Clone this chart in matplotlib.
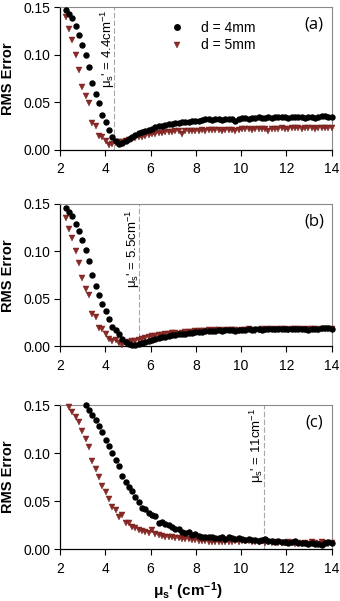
import numpy as np
import matplotlib
matplotlib.use('Agg')
import matplotlib.pyplot as plt

plt.rcParams['font.family'] = ['Liberation Sans', 'DejaVu Sans']
plt.rcParams['mathtext.fontset'] = 'custom'
plt.rcParams['mathtext.rm'] = 'Liberation Sans'
plt.rcParams['mathtext.it'] = 'Liberation Sans:italic'
plt.rcParams['mathtext.bf'] = 'Liberation Sans:bold'

# reduced scattering coefficient grid (cm^-1)
mu_s = np.linspace(2.25, 14.0, 81)

# (a)
a_d4 = [0.147, 0.143, 0.138, 0.130, 0.121, 0.110, 0.100, 0.087, 0.070, 0.058,
        0.049, 0.036, 0.029, 0.021, 0.013, 0.009, 0.006, 0.007, 0.009, 0.011,
        0.013, 0.015, 0.017, 0.018, 0.020, 0.021, 0.022, 0.024, 0.025, 0.025,
        0.026, 0.027, 0.027, 0.028, 0.028, 0.029, 0.029, 0.029, 0.030, 0.030,
        0.030, 0.031, 0.032, 0.032, 0.031, 0.032, 0.032, 0.031, 0.032, 0.032,
        0.032, 0.030, 0.032, 0.033, 0.033, 0.032, 0.033, 0.033, 0.034, 0.033,
        0.033, 0.034, 0.033, 0.034, 0.034, 0.034, 0.034, 0.033, 0.034, 0.034,
        0.034, 0.034, 0.033, 0.034, 0.034, 0.033, 0.034, 0.035, 0.035, 0.034,
        0.034]
a_d5 = [0.140, 0.127, 0.115, 0.100, 0.084, 0.066, 0.056, 0.049, 0.028, 0.025,
        0.014, 0.013, 0.009, 0.005, 0.006, 0.007, 0.008, 0.008, 0.009, 0.010,
        0.011, 0.012, 0.013, 0.013, 0.014, 0.015, 0.016, 0.016, 0.017, 0.017,
        0.018, 0.018, 0.018, 0.019, 0.019, 0.016, 0.019, 0.020, 0.020, 0.020,
        0.020, 0.021, 0.020, 0.021, 0.021, 0.021, 0.021, 0.020, 0.021, 0.021,
        0.021, 0.019, 0.021, 0.022, 0.022, 0.022, 0.021, 0.022, 0.022, 0.022,
        0.022, 0.020, 0.022, 0.022, 0.022, 0.023, 0.022, 0.022, 0.023, 0.023,
        0.023, 0.022, 0.023, 0.023, 0.023, 0.022, 0.023, 0.023, 0.023, 0.023,
        0.023]

# (b)
b_d4 = [0.146, 0.142, 0.137, 0.129, 0.122, 0.112, 0.102, 0.090, 0.075, 0.064,
        0.054, 0.045, 0.037, 0.029, 0.021, 0.017, 0.013, 0.008, 0.005, 0.003,
        0.002, 0.002, 0.003, 0.004, 0.005, 0.006, 0.007, 0.008, 0.009, 0.010,
        0.010, 0.011, 0.012, 0.012, 0.013, 0.013, 0.013, 0.014, 0.014, 0.015,
        0.015, 0.015, 0.016, 0.016, 0.016, 0.016, 0.017, 0.016, 0.017, 0.017,
        0.017, 0.016, 0.017, 0.017, 0.017, 0.018, 0.017, 0.018, 0.018, 0.017,
        0.018, 0.018, 0.018, 0.018, 0.018, 0.018, 0.018, 0.018, 0.018, 0.018,
        0.018, 0.018, 0.018, 0.017, 0.018, 0.018, 0.018, 0.019, 0.019, 0.019,
        0.018]
b_d5 = [0.135, 0.124, 0.114, 0.101, 0.088, 0.072, 0.061, 0.054, 0.034, 0.031,
        0.019, 0.018, 0.013, 0.008, 0.006, 0.007, 0.004, 0.002, 0.004, 0.005,
        0.006, 0.006, 0.007, 0.008, 0.009, 0.010, 0.011, 0.011, 0.012, 0.012,
        0.013, 0.013, 0.014, 0.014, 0.013, 0.014, 0.015, 0.015, 0.015, 0.016,
        0.016, 0.016, 0.016, 0.017, 0.016, 0.017, 0.017, 0.016, 0.017, 0.017,
        0.017, 0.017, 0.016, 0.017, 0.017, 0.018, 0.017, 0.016, 0.017, 0.018,
        0.017, 0.018, 0.018, 0.017, 0.018, 0.018, 0.018, 0.017, 0.018, 0.018,
        0.018, 0.018, 0.017, 0.018, 0.018, 0.018, 0.017, 0.018, 0.018, 0.018,
        0.018]

# (c)  (None = off the top of the axis)
c_d4 = [None, None, None, None, None, None, 0.150, 0.145, 0.140, 0.134,
        0.128, 0.122, 0.114, 0.107, 0.100, 0.093, 0.086, 0.076, 0.070, 0.065,
        0.060, 0.054, 0.049, 0.043, 0.042, 0.038, 0.035, 0.034, 0.027, 0.028,
        0.026, 0.025, 0.023, 0.021, 0.021, 0.018, 0.017, 0.018, 0.015, 0.016,
        0.014, 0.013, 0.013, 0.012, 0.012, 0.011, 0.011, 0.012, 0.010, 0.013,
        0.011, 0.010, 0.011, 0.010, 0.009, 0.010, 0.009, 0.009, 0.008, 0.009,
        0.010, 0.008, 0.008, 0.007, 0.008, 0.007, 0.007, 0.006, 0.007, 0.008,
        0.006, 0.006, 0.006, 0.005, 0.006, 0.005, 0.005, 0.004, 0.006, 0.007,
        0.006]
c_d5 = [None, 0.148, 0.143, 0.138, 0.132, 0.123, 0.115, 0.106, 0.092, 0.083,
        0.075, 0.066, 0.059, 0.052, 0.044, 0.041, 0.033, 0.035, 0.027, 0.027,
        0.023, 0.022, 0.020, 0.019, 0.018, 0.017, 0.020, 0.016, 0.015, 0.014,
        0.013, 0.013, 0.012, 0.011, 0.011, 0.010, 0.010, 0.010, 0.009, 0.009,
        0.008, 0.008, 0.008, 0.007, 0.007, 0.007, 0.007, 0.007, 0.007, 0.007,
        0.007, 0.008, 0.007, 0.008, 0.008, 0.008, 0.007, 0.007, 0.007, 0.008,
        0.006, 0.007, 0.006, 0.007, 0.006, 0.006, 0.006, 0.007, 0.006, 0.005,
        0.006, 0.005, 0.006, 0.005, 0.007, 0.006, 0.005, 0.007, 0.006, 0.005,
        0.006]

optimum = [4.4, 5.5, 11.0]
opt_labels = ['4.4', '5.5', '11']
panel_tags = ['(a)', '(b)', '(c)']
series = [(a_d4, a_d5), (b_d4, b_d5), (c_d4, c_d5)]

# axes boxes in figure fractions (left, bottom, width, height)
boxes = [[0.1765, 0.7512, 0.799, 0.2371],
         [0.1765, 0.4235, 0.799, 0.2371],
         [0.1765, 0.0865, 0.799, 0.2396]]
text_y = [0.106, 0.103, 0.108]
text_dx = [-0.28, -0.26, -0.30]

red = '#8c2a26'

fig = plt.figure(figsize=(3.4, 6.01), dpi=100)
for i in range(3):
    ax = fig.add_axes(boxes[i])
    d4 = np.array([np.nan if v is None else v for v in series[i][0]])
    d5 = np.array([np.nan if v is None else v for v in series[i][1]])
    ax.plot(mu_s, d5, linestyle='none', marker='v', markersize=3.9,
            color=red, markeredgecolor='#6b1a17', markeredgewidth=0.3,
            clip_on=False, label='d = 5mm', zorder=3)
    ax.plot(mu_s, d4, linestyle='none', marker='o', markersize=3.6,
            color='black', clip_on=False, label='d = 4mm', zorder=4)
    ax.axvline(optimum[i], color='#a8a8a8', linestyle=(0, (5, 2)), linewidth=0.8, zorder=1)
    ax.text(optimum[i] + text_dx[i], text_y[i],
            'μ$_\\mathregular{s}$\' = ' + opt_labels[i] + 'cm$^\\mathregular{-1}$',
            rotation=90, ha='center', va='center', fontsize=9.5)
    ax.text(0.935, 0.88, panel_tags[i], transform=ax.transAxes, ha='center', va='center',
            fontsize=12, family=['Open Sans', 'DejaVu Sans'])

    ax.set_xlim(2, 14)
    ax.set_ylim(0, 0.15)
    ax.set_xticks([2, 4, 6, 8, 10, 12, 14])
    ax.set_yticks([0.0, 0.05, 0.10, 0.15])
    ax.set_yticklabels(['0.00', '0.05', '0.10', '0.15'])
    ax.tick_params(direction='out', length=4, width=0.8, labelsize=10)
    ax.tick_params(axis='x', pad=5)
    ax.tick_params(axis='y', pad=3)
    for s in ['top', 'right']:
        ax.spines[s].set_color('#8a8a8a')
        ax.spines[s].set_linewidth(0.8)
    for s in ['left', 'bottom']:
        ax.spines[s].set_linewidth(0.9)
    ax.set_ylabel('RMS Error', fontsize=10.5, fontweight='bold')
    ax.yaxis.set_label_coords(-0.165, 0.5)

    if i == 0:
        h, l = ax.get_legend_handles_labels()
        ax.legend([h[1], h[0]], [l[1], l[0]], loc='upper left',
                  bbox_to_anchor=(0.36, 0.99), frameon=False, fontsize=10,
                  handletextpad=1.2, labelspacing=0.25, handlelength=1.0,
                  markerscale=1.1)
    if i == 2:
        ax.set_xlabel('μ$_\\mathbf{s}$\' (cm$^\\mathbf{-1}$)', fontsize=11, fontweight='bold')
        ax.xaxis.set_label_coords(0.47, -0.215)

fig.savefig('out.png', dpi=100)
